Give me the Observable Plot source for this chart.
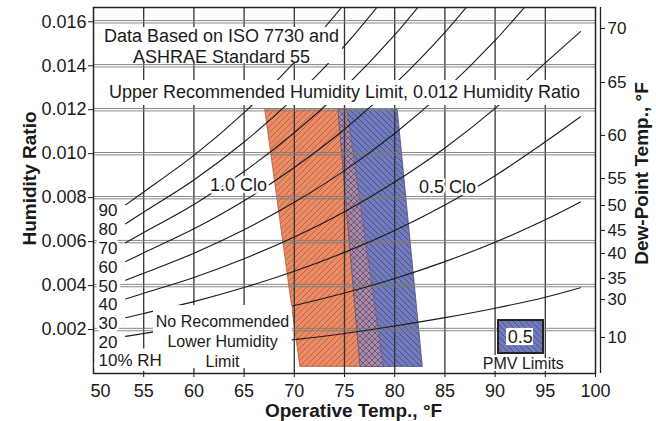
<!DOCTYPE html>
<html><head><meta charset="utf-8">
<script src="https://cdn.jsdelivr.net/npm/d3@7"></script>
<script src="https://cdn.jsdelivr.net/npm/@observablehq/plot@0.6"></script>
<style>
html,body{margin:0;padding:0;background:#fff;}
#chart svg{display:block;}
</style></head><body><div id="chart"></div>
<script>
// ---- data ----
const tempTicks = [50, 55, 60, 65, 70, 75, 80, 85, 90, 95, 100];
const ratioTicks = [0.002, 0.004, 0.006, 0.008, 0.010, 0.012, 0.014, 0.016];
const dewLabels = ["70", "65", "60", "55", "50", "45", "40", "35", "30", "10"];
const dewRatios = [0.01569, 0.01324, 0.01083, 0.00887, 0.00764, 0.00651, 0.00546, 0.00432, 0.00337, 0.00164];

const rhLevels = ["90", "80", "70", "60", "50", "40", "30", "20", "10% RH"];
const rhTemps = [53.2, 55, 60, 65, 70, 75, 80, 85, 90, 95, 98.5];
const rh90 = [0.00767, 0.00826, 0.00992, 0.01187, 0.01415, 0.01682];
const rh80 = [0.00681, 0.00734, 0.00880, 0.01053, 0.01255, 0.01490, 0.01767];
const rh70 = [0.00595, 0.00641, 0.00769, 0.00919, 0.01095, 0.01300, 0.01540, 0.01819];
const rh60 = [0.00509, 0.00549, 0.00658, 0.00786, 0.00937, 0.01111, 0.01316, 0.01552, 0.01827];
const rh50 = [0.00424, 0.00456, 0.00547, 0.00654, 0.00779, 0.00923, 0.01092, 0.01288, 0.01515, 0.01777];
const rh40 = [0.00339, 0.00365, 0.00437, 0.00522, 0.00621, 0.00736, 0.00871, 0.01026, 0.01206, 0.01413, 0.01555];
const rh30 = [0.00254, 0.00273, 0.00327, 0.00391, 0.00465, 0.00551, 0.00651, 0.00767, 0.00900, 0.01054, 0.01168];
const rh20 = [0.00169, 0.00182, 0.00218, 0.00260, 0.00309, 0.00366, 0.00432, 0.00509, 0.00597, 0.00699, 0.00780];
const rh10 = [0.00084, 0.00091, 0.00109, 0.00130, 0.00154, 0.00182, 0.00216, 0.00254, 0.00297, 0.00347, 0.00390];

const zoneNames = ["1.0 Clo", "0.5 Clo", "overlap"];
const zoneRatios = [0.012, 0.0003];           // top, bottom humidity ratio
const zoneLeftTop = [67.1, 74.4, 74.4];
const zoneRightTop = [75.3, 80.3, 75.3];
const zoneLeftBottom = [70.6, 76.6, 76.6];
const zoneRightBottom = [78.9, 82.8, 78.9];

// ---- tables built from the arrays ----
const rhSeries = [rh90, rh80, rh70, rh60, rh50, rh40, rh30, rh20, rh10];
const rhRows = rhSeries.flatMap((s, i) => s.map((w, j) => ({level: rhLevels[i], T: rhTemps[j], W: w})));
const rhStarts = rhSeries.map((s, i) => ({level: rhLevels[i], T: rhTemps[0], W: s[0]}));
const zoneRows = zoneNames.flatMap((z, i) => [
  {zone: z, W: zoneRatios[0], left: zoneLeftTop[i], right: zoneRightTop[i]},
  {zone: z, W: zoneRatios[1], left: zoneLeftBottom[i], right: zoneRightBottom[i]}
]);

const font = "'Liberation Sans', Arial, Helvetica, sans-serif";
const ink = "#1a1a1a";
const halo = {fill: ink, stroke: "white", strokeWidth: 5, paintOrder: "stroke", strokeLinejoin: "round"};
const lastLevel = rhLevels[rhLevels.length - 1];

const svg = Plot.plot({
  width: 656, height: 421,
  marginLeft: 93, marginRight: 61, marginTop: 7, marginBottom: 48,
  x: {domain: [50, 100]},
  y: {domain: [0, 0.01665]},
  style: {fontFamily: font, fontSize: "18px", color: ink, background: "#fff", overflow: "visible"},
  marks: [
    Plot.areaX(zoneRows, {filter: d => d.zone === "1.0 Clo", y: "W", x1: "left", x2: "right", fill: "url(#hatchOrange)", stroke: "#b25c3c", strokeWidth: 0.8}),
    Plot.areaX(zoneRows, {filter: d => d.zone === "0.5 Clo", y: "W", x1: "left", x2: "right", fill: "url(#hatchBlue)", stroke: "#464d8a", strokeWidth: 0.8}),
    Plot.areaX(zoneRows, {filter: d => d.zone === "overlap", y: "W", x1: "left", x2: "right", fill: "url(#hatchCross)", stroke: "#6d5670", strokeWidth: 0.6}),
    // grid
    Plot.ruleX(tempTicks.slice(1, -1), {stroke: "#333", strokeWidth: 1.3}),
    Plot.ruleY(ratioTicks, {stroke: "#7a7a7a", strokeWidth: 0.9, dy: -1.2}),
    Plot.ruleY(ratioTicks, {stroke: "#7a7a7a", strokeWidth: 0.9, dy: 1.2}),
    // RH curves
    Plot.line(rhRows, {x: "T", y: "W", z: "level", curve: "catmull-rom", stroke: ink, strokeWidth: 1.1, clip: true}),
    // white note boxes
    Plot.rect([null], {x1: 50, x2: 74.8, y1: 0.0141, y2: 0.01574, fill: "white"}),
    Plot.rect([null], {x1: 50, x2: 100, y1: 0.01219, y2: 0.01333, fill: "white"}),
    Plot.rect([null], {x1: 55.98, x2: 69.8, y1: 0.00023, y2: 0.00309, fill: "white"}),
    // PMV legend swatch
    Plot.rect([null], {x1: 90.34, x2: 94.82, y1: 0.00091, y2: 0.00241, fill: "url(#hatchBlue)", stroke: "#222", strokeWidth: 2}),
    Plot.rect([null], {x1: 91.14, x2: 93.82, y1: 0.00127, y2: 0.00205, fill: "white"}),
    // frame and right axis line
    Plot.frame({stroke: "#222", strokeWidth: 1.5}),
    Plot.ruleX([100], {dx: 5, stroke: "#222", strokeWidth: 1.3}),
    // axes
    Plot.axisY({ticks: ratioTicks, tickFormat: d3.format(".3f"), tickSize: 5, tickPadding: 2, fontSize: 18, label: null}),
    Plot.axisY({anchor: "right", ticks: dewRatios, tickFormat: d => dewLabels[dewRatios.indexOf(d)], tickSize: 4, tickPadding: 3, dx: 5, fontSize: 17, label: null}),
    Plot.axisX({ticks: tempTicks.slice(1), tickFormat: d => String(d), tickSize: 4, tickPadding: 7, fontSize: 18, label: null}),
    Plot.axisX({ticks: [50], tickFormat: d => String(d), tickSize: 0, tickPadding: 11, dx: 7, fontSize: 18, label: null}),
    // RH labels
    Plot.text(rhStarts, {filter: d => d.level !== lastLevel, x: 50, y: "W", text: "level", textAnchor: "start", dx: 5, dy: 6, fontSize: 17, ...halo, strokeWidth: 6}),
    Plot.text(rhStarts, {filter: d => d.level === lastLevel, x: 50, y: "W", text: "level", textAnchor: "start", dx: 5, dy: 6, fontSize: 17, ...halo, strokeWidth: 11}),
    // notes
    Plot.text(["Data Based on ISO 7730 and\nASHRAE Standard 55"], {x: 62.75, y: 0.0149, lineHeight: 1.17, fontSize: 18, fill: ink}),
    Plot.text(["Upper Recommended Humidity Limit, 0.012 Humidity Ratio"], {x: 75.0, y: 0.01278, fontSize: 18, fill: ink}),
    Plot.text(["No Recommended\nLower Humidity\nLimit"], {x: 62.85, y: 0.0015, lineHeight: 1.25, fontSize: 16, fill: ink}),
    Plot.text(["1.0 Clo"], {x: 64.44, y: 0.00855, fontSize: 18, ...halo}),
    Plot.text(["0.5 Clo"], {x: 85.26, y: 0.00846, fontSize: 18, ...halo}),
    Plot.text(["0.5"], {x: 92.5, y: 0.00166, fontSize: 18, fill: ink}),
    Plot.text(["PMV Limits"], {x: 92.8, y: 0.00045, fontSize: 16, ...halo, strokeWidth: 4}),
    // axis titles
    Plot.text(["Humidity Ratio"], {frameAnchor: "left", textAnchor: "middle", lineAnchor: "middle", rotate: -90, dx: -64, dy: -12, fontSize: 19, fontWeight: "bold", fill: ink}),
    Plot.text(["Dew-Point Temp., °F"], {frameAnchor: "right", textAnchor: "middle", lineAnchor: "middle", rotate: -90, dx: 46, dy: -17, fontSize: 19, fontWeight: "bold", fill: ink}),
    Plot.text(["Operative Temp., °F"], {frameAnchor: "bottom", textAnchor: "middle", lineAnchor: "middle", dx: 9, dy: 37, fontSize: 19, fontWeight: "bold", fill: ink})
  ]
});

// hatch patterns
const defs = d3.select(svg).insert("defs", ":first-child");
function hatch(id, bg, line, dirs, s) {
  const p = defs.append("pattern").attr("id", id).attr("patternUnits", "userSpaceOnUse")
    .attr("width", s).attr("height", s);
  p.append("rect").attr("width", s).attr("height", s).attr("fill", bg);
  if (dirs.includes("/")) p.append("path").attr("d", `M0,${s} L${s},0 M-1,1 L1,-1 M${s-1},${s+1} L${s+1},${s-1}`)
    .attr("stroke", line).attr("stroke-width", 0.8);
  if (dirs.includes("\\")) p.append("path").attr("d", `M0,0 L${s},${s} M-1,${s-1} L1,${s+1} M${s-1},-1 L${s+1},1`)
    .attr("stroke", line).attr("stroke-width", 0.8);
}
hatch("hatchOrange", "#e98c66", "#b4583a", "/", 6);
hatch("hatchBlue", "#737cbb", "#3d4584", "\\", 6);
hatch("hatchCross", "#a98aa8", "#5e4866", "/\\", 6);

document.getElementById("chart").appendChild(svg);
</script></body></html>
